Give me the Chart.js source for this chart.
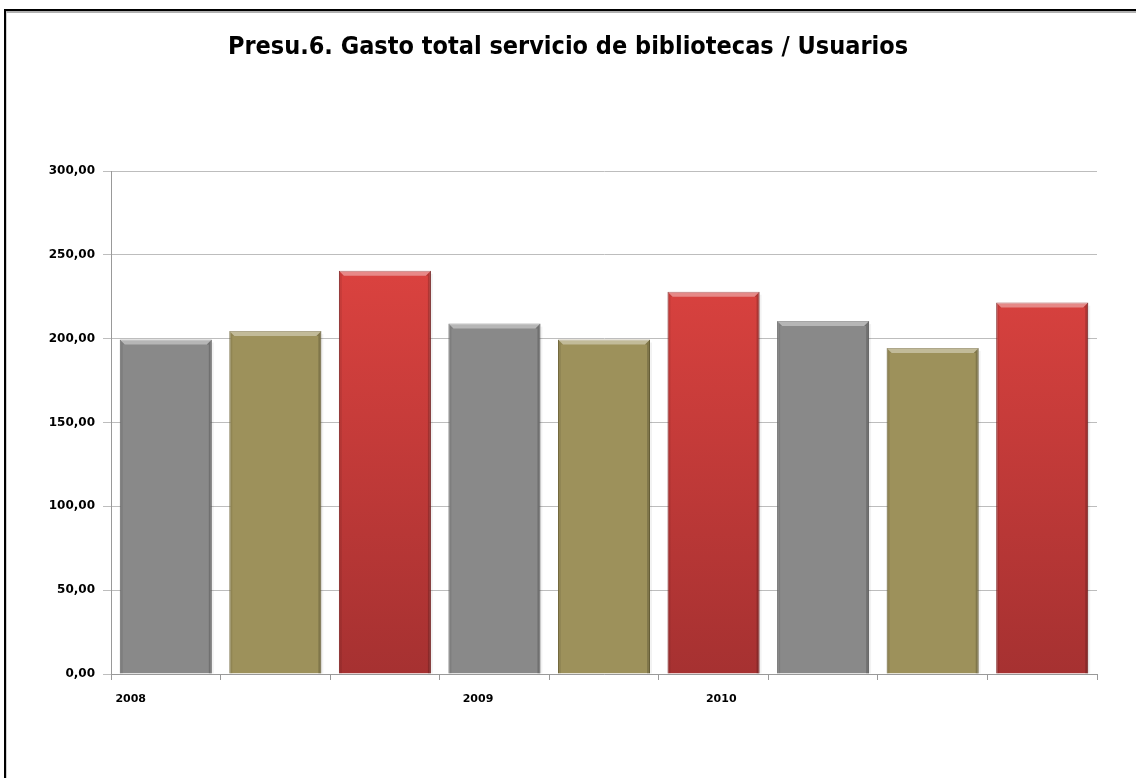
<!DOCTYPE html>
<html lang="es">
<head>
<meta charset="utf-8">
<title>Presu.6. Gasto total servicio de bibliotecas / Usuarios</title>
<script src="https://cdn.jsdelivr.net/npm/chart.js@4.4.1/dist/chart.umd.min.js"></script>
<style>
  html, body { margin: 0; padding: 0; background: #fff; }
  #lienzo-wrap { position: relative; width: 1136px; height: 778px; overflow: hidden; }
  #grafico { position: absolute; left: 0; top: 0; }
  /* marco: solo se ven los bordes superior e izquierdo */
  .marco { position: absolute; left: 4px; top: 9px; right: -20px; bottom: -20px;
           border-top: 2px solid #000; border-left: 2px solid #000; pointer-events: none; }
  .marco-int { position: absolute; left: 6px; top: 11px; right: -20px; bottom: -20px;
               border-top: 2px solid #b0b0b0; border-left: 1px solid #d0d0d0; pointer-events: none; }
</style>
</head>
<body>
<div id="lienzo-wrap">
  <canvas id="grafico" width="1136" height="778"></canvas>
  <div class="marco"></div>
  <div class="marco-int"></div>
</div>
<script>
// Datos: gasto por usuario, tres barras por año
const categorias = ['2008-a', '2008-b', '2008-c', '2009-a', '2009-b', '2009-c', '2010-a', '2010-b', '2010-c'];
const valores = [199.5, 204.5, 240.5, 209, 199.5, 228, 210.5, 194.5, 221.5];
const anios = ['2008', '2009', '2010'];
const ticksEjeY = [0, 50, 100, 150, 200, 250, 300];

// Colores de cada serie (se repiten cada tres barras)
const colorGris = '#898989';
const colorOliva = '#9d915b';

function colorBarra(ctx) {
  const i = ctx.dataIndex % 3;
  if (i === 0) return colorGris;
  if (i === 1) return colorOliva;
  const area = ctx.chart.chartArea;
  if (!area) return '#c83b38';
  const g = ctx.chart.ctx.createLinearGradient(0, area.top, 0, area.bottom);
  g.addColorStop(0, '#e34946');
  g.addColorStop(0.2, '#da423f');
  g.addColorStop(1, '#a63131');
  return g;
}

function bordeBarra(ctx) {
  const i = ctx.dataIndex % 3;
  return ['#6f6f6f', '#7c7244', '#8e2626'][i];
}

// Efecto biselado sobre cada barra, usando la geometría calculada por Chart.js
const biselPlugin = {
  id: 'bisel',
  afterDatasetsDraw(chart) {
    const c = chart.ctx;
    chart.getDatasetMeta(0).data.forEach(bar => {
      const izq = bar.x - bar.width / 2;
      const der = bar.x + bar.width / 2;
      const arriba = bar.y;
      const base = bar.base;
      const b = 5;
      c.save();
      // sombra suave a la derecha
      c.fillStyle = 'rgba(0,0,0,0.05)';
      c.fillRect(der, arriba + 3, 2, base - arriba - 3);
      // franja superior clara
      c.beginPath();
      c.moveTo(izq, arriba);
      c.lineTo(der, arriba);
      c.lineTo(der - b, arriba + b);
      c.lineTo(izq + b, arriba + b);
      c.closePath();
      c.fillStyle = 'rgba(255,255,255,0.38)';
      c.fill();
      // lado derecho oscuro
      c.beginPath();
      c.moveTo(der, arriba);
      c.lineTo(der, base);
      c.lineTo(der - 3, base);
      c.lineTo(der - 3, arriba + b);
      c.lineTo(der - b, arriba + b);
      c.closePath();
      c.fillStyle = 'rgba(0,0,0,0.18)';
      c.fill();
      // lado izquierdo algo más claro
      c.beginPath();
      c.moveTo(izq, arriba);
      c.lineTo(izq + b, arriba + b);
      c.lineTo(izq + 3, arriba + b);
      c.lineTo(izq + 3, base);
      c.lineTo(izq, base);
      c.closePath();
      c.fillStyle = 'rgba(0,0,0,0.08)';
      c.fill();
      c.restore();
    });
  }
};

const fuenteEjes = { family: '"DejaVu Sans", sans-serif', weight: 'bold', size: 12 };

new Chart(document.getElementById('grafico'), {
  type: 'bar',
  data: {
    labels: categorias,
    datasets: [{
      label: 'Gasto / Usuarios',
      data: valores,
      backgroundColor: colorBarra,
      borderColor: bordeBarra,
      borderWidth: 1,
      barPercentage: 0.84,
      categoryPercentage: 1
    }]
  },
  options: {
    responsive: false,
    animation: false,
    layout: { padding: { left: 39, right: 39, top: 0, bottom: 0 } },
    plugins: {
      legend: { display: false },
      tooltip: { enabled: false },
      title: {
        display: true,
        text: 'Presu.6. Gasto total servicio de bibliotecas / Usuarios',
        color: '#000',
        font: { family: '"Liberation Sans Narrow", "DejaVu Sans Condensed", sans-serif', weight: 'bold', size: 25 },
        padding: { top: 32, bottom: 109 }
      }
    },
    scales: {
      x: {
        type: 'category',
        weight: 0,
        grid: { drawOnChartArea: false, offset: true, tickLength: 6, color: '#999' },
        border: { color: '#999', width: 1 },
        ticks: { display: false },
        afterFit(scale) { scale.height = 6; }
      },
      anios: {
        type: 'linear',
        position: 'bottom',
        weight: 1,
        min: 0,
        max: 9,
        offset: false,
        grid: { display: false, drawTicks: false, offset: false },
        border: { display: false },
        afterBuildTicks(axis) {
          // posición de cada rótulo de año sobre el eje
          axis.ticks = [0.18, 3.35, 5.57].map(v => ({ value: v }));
        },
        ticks: {
          autoSkip: false,
          maxRotation: 0,
          padding: 13,
          color: '#000',
          font: { family: '"DejaVu Sans", sans-serif', weight: 'bold', size: 11 },
          callback: (v, i) => anios[i]
        },
        afterFit(scale) { scale.height = 98; }
      },
      y: {
        min: 0,
        max: 300,
        afterBuildTicks(axis) {
          axis.ticks = ticksEjeY.map(v => ({ value: v }));
        },
        grid: { color: '#bdbdbd', lineWidth: 1, tickLength: 8 },
        border: { color: '#999', width: 1 },
        ticks: {
          padding: 8,
          color: '#000',
          font: fuenteEjes,
          callback: v => v.toFixed(2).replace('.', ',')
        },
        afterFit(scale) { scale.width = 72; }
      }
    }
  },
  plugins: [biselPlugin]
});
</script>
</body>
</html>
